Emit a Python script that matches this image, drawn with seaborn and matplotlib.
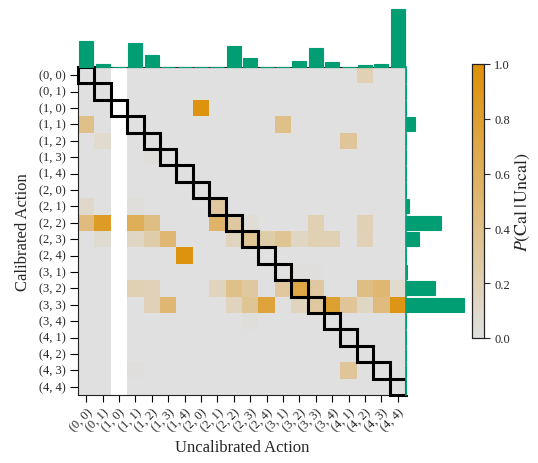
import numpy as np
import pandas as pd
import seaborn as sns
import matplotlib.pyplot as plt
from matplotlib.colors import LinearSegmentedColormap
from matplotlib.patches import Rectangle

# Action labels shared by both axes
actions = ["(0, 0)", "(0, 1)", "(1, 0)", "(1, 1)", "(1, 2)", "(1, 3)", "(1, 4)",
           "(2, 0)", "(2, 1)", "(2, 2)", "(2, 3)", "(2, 4)", "(3, 1)", "(3, 2)",
           "(3, 3)", "(3, 4)", "(4, 1)", "(4, 2)", "(4, 3)", "(4, 4)"]

# Non-zero entries of P(Cal | Uncal): calibrated row index, uncalibrated column index, probability
cal_idx = [0, 2, 3, 3, 4, 4, 5, 8, 8, 8,
           9, 9, 9, 9, 9, 9, 9, 9, 9,
           10, 10, 10, 10, 10, 10, 10, 10, 10, 10, 10, 10,
           11, 12, 12,
           13, 13, 13, 13, 13, 13, 13, 13, 13, 13, 13,
           14, 14, 14, 14, 14, 14, 14, 14, 14, 14, 14, 14,
           15, 18, 18]
uncal_idx = [17, 7, 0, 12, 1, 16, 4, 0, 3, 8,
             0, 1, 3, 4, 8, 9, 10, 14, 17,
             1, 3, 4, 5, 9, 10, 11, 12, 13, 14, 15, 17,
             6, 13, 14,
             3, 4, 8, 9, 10, 12, 13, 14, 17, 18, 19,
             4, 5, 9, 10, 11, 13, 14, 15, 16, 17, 18, 19,
             10, 3, 16]
prob = [0.20, 0.95, 0.40, 0.40, 0.08, 0.33, 0.03, 0.10, 0.03, 0.30,
        0.45, 0.85, 0.62, 0.42, 0.55, 0.30, 0.05, 0.20, 0.20,
        0.07, 0.13, 0.25, 0.50, 0.15, 0.35, 0.25, 0.35, 0.13, 0.20, 0.20, 0.18,
        0.95, 0.02, 0.02,
        0.20, 0.18, 0.15, 0.40, 0.30, 0.30, 0.70, 0.30, 0.42, 0.50, 0.08,
        0.18, 0.50, 0.15, 0.35, 0.75, 0.15, 0.30, 0.80, 0.33, 0.12, 0.45, 0.92,
        0.03, 0.02, 0.33]

# Marginal frequencies (%) of uncalibrated and calibrated actions
uncal_freq = [13.8, 1.4, 0.0, 12.7, 6.3, 0.2, 0.2, 0.2, 0.2, 11.1,
              4.7, 0.2, 0.2, 3.0, 10.0, 2.5, 0.2, 0.9, 1.4, 30.5]
cal_freq = [0.0, 0.0, 0.0, 6.1, 0.0, 0.0, 0.0, 0.0, 2.3, 23.4,
            8.9, 0.0, 0.9, 19.3, 39.1, 0.0, 0.0, 0.0, 0.0, 0.0]

palette = sns.color_palette("colorblind")
ORANGE = palette[1]
GREEN = palette[2]

sns.set_style("ticks")
plt.rcParams["font.family"] = ["Liberation Serif", "DejaVu Serif"]
plt.rcParams["mathtext.fontset"] = "stix"

n = len(actions)
mat = np.zeros((n, n))
for r, c, v in zip(cal_idx, uncal_idx, prob):
    mat[r, c] = v
# columns of uncalibrated actions that never occur are undefined
mat[:, np.array(uncal_freq) == 0] = np.nan
df = pd.DataFrame(mat, index=actions, columns=actions)

cmap = LinearSegmentedColormap.from_list("grey_orange", ["#e0e0e0", ORANGE])

W, H = 538, 464
fig = plt.figure(figsize=(W / 100, H / 100), dpi=100)
ax = fig.add_axes([78 / W, 68 / H, 328 / W, 328 / H])
ax_top = fig.add_axes([78 / W, 396 / H, 328 / W, 58 / H])
ax_right = fig.add_axes([406 / W, 68 / H, 58 / W, 328 / H])
cax = fig.add_axes([472 / W, 125 / H, 12 / W, 274 / H])

sns.heatmap(df, ax=ax, cmap=cmap, vmin=0, vmax=1, cbar_ax=cax,
            xticklabels=actions, yticklabels=actions)

for i in range(n):
    ax.add_patch(Rectangle((i, i), 1, 1, fill=False, ec="black", lw=2.2,
                           clip_on=False, zorder=5))

for s in ax.spines.values():
    s.set_visible(True)
    s.set_linewidth(0.8)
    s.set_color("#222222")

ax.tick_params(axis="both", labelsize=9, color="black", width=0.8)
ax.tick_params(axis="y", length=6, pad=2.5)
ax.tick_params(axis="x", length=5, pad=3)
ax.set_yticklabels(actions, rotation=0)
ax.set_xticklabels(actions, rotation=45, ha="right", rotation_mode="anchor")
ax.set_xlabel("Uncalibrated Action", fontsize=12)
ax.set_ylabel("Calibrated Action", fontsize=12, labelpad=6)

pos = np.arange(n) + 0.5
ax_top.bar(pos, uncal_freq, width=0.85, color=GREEN, edgecolor=GREEN,
           linewidth=0.8, clip_on=False)
ax_top.set_xlim(0, n)
ax_top.set_ylim(0, max(uncal_freq))
ax_top.axis("off")

ax_right.barh(pos, cal_freq, height=0.85, color=GREEN, edgecolor=GREEN,
              linewidth=0.8, clip_on=False)
ax_right.set_ylim(n, 0)
ax_right.set_xlim(0, max(cal_freq))
for k in ["top", "right", "bottom"]:
    ax_right.spines[k].set_visible(False)
ax_right.spines["left"].set_color(GREEN)
ax_right.spines["left"].set_linewidth(1.2)
ax_right.set_xticks([])
ax_right.set_yticks([])

cax.set_yticks([0.0, 0.2, 0.4, 0.6, 0.8, 1.0])
cax.tick_params(labelsize=9, length=4, width=0.8)
cax.set_ylabel(r"$P(\mathrm{Cal}\,|\,\mathrm{Uncal})$", fontsize=13, labelpad=3)
for s in cax.spines.values():
    s.set_visible(True)
    s.set_linewidth(0.8)
    s.set_color("#222222")

fig.savefig("out.png", dpi=100)
